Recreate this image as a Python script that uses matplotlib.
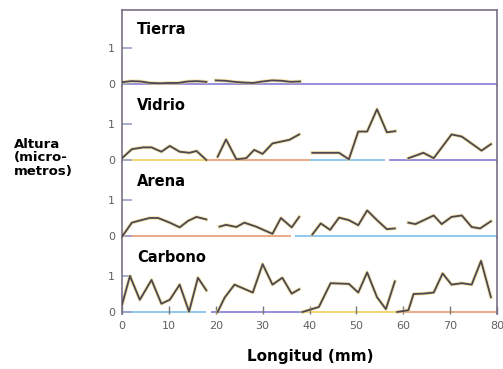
import numpy as np
import matplotlib
matplotlib.use("Agg")
import matplotlib.pyplot as plt

# Surface height profiles (micrometres) vs length (mm), four scans per material
PANELS = ["Tierra", "Vidrio", "Arena", "Carbono"]

tierra_x = [[0, 2, 4, 6, 8, 10, 12, 14, 16, 18],
            [20, 22, 24, 26, 28, 30, 32, 34, 36, 38]]
tierra_y = [[0.05, 0.08, 0.07, 0.03, 0.02, 0.03, 0.03, 0.07, 0.08, 0.06],
            [0.1, 0.09, 0.06, 0.04, 0.03, 0.07, 0.1, 0.09, 0.06, 0.07]]

vidrio_x = [[0, 2.1, 4.5, 6.3, 8.4, 10.2, 12.3, 14.4, 15.9, 18],
            [20.4, 22.2, 24.4, 26.5, 28.2, 30, 32.1, 33.9, 35.7, 37.8],
            [40.6, 46.3, 48.4, 50.4, 52.3, 54.4, 56.5, 58.3],
            [61.1, 64.3, 66.5, 70.3, 72.5, 76.7, 78.7]]
vidrio_y = [[0.05, 0.3, 0.35, 0.35, 0.23, 0.39, 0.23, 0.2, 0.25, 0.0],
            [0.09, 0.57, 0.02, 0.05, 0.28, 0.17, 0.46, 0.51, 0.56, 0.71],
            [0.2, 0.2, 0.02, 0.79, 0.79, 1.41, 0.77, 0.8],
            [0.05, 0.2, 0.05, 0.71, 0.65, 0.26, 0.44]]

arena_x = [[0.1, 2.1, 3.8, 5.9, 7.7, 10.2, 12.3, 14.1, 15.9, 18],
           [20.8, 22.2, 24.4, 26.1, 28.6, 32.1, 33.9, 36.2, 37.8],
           [40.6, 42.4, 44.4, 46.3, 48.4, 50.4, 52.3, 54.4, 56.5, 58.2],
           [61.1, 62.6, 66.5, 68.2, 70.3, 72.5, 74.6, 76.4, 78.7]]
arena_y = [[0.0, 0.37, 0.43, 0.5, 0.5, 0.37, 0.24, 0.42, 0.53, 0.46],
           [0.26, 0.31, 0.25, 0.37, 0.26, 0.06, 0.5, 0.24, 0.53],
           [0.04, 0.35, 0.17, 0.51, 0.44, 0.3, 0.71, 0.44, 0.19, 0.21],
           [0.37, 0.33, 0.57, 0.33, 0.53, 0.57, 0.25, 0.21, 0.41]]

carbono_x = [[0, 1.7, 3.8, 6.3, 8.4, 10.2, 12.3, 14.3, 16.2, 18],
             [20.4, 21.9, 24, 27.9, 30, 32.1, 34.2, 36.2, 37.8],
             [38.5, 42, 44.5, 48.4, 50.4, 52.3, 54.4, 56.3, 58.2],
             [58.7, 61.1, 62.2, 64.3, 66.5, 68.4, 70.3, 72.5, 74.6, 76.6, 78.7]]
carbono_y = [[0.2, 1.0, 0.34, 0.89, 0.23, 0.34, 0.76, 0.01, 0.95, 0.6],
             [0.0, 0.4, 0.76, 0.54, 1.33, 0.76, 0.95, 0.51, 0.63],
             [0.0, 0.14, 0.8, 0.78, 0.54, 1.1, 0.41, 0.08, 0.85],
             [0.0, 0.05, 0.5, 0.51, 0.54, 1.07, 0.76, 0.8, 0.76, 1.42, 0.41]]

SERIES_X = [tierra_x, vidrio_x, arena_x, carbono_x]
SERIES_Y = [tierra_y, vidrio_y, arena_y, carbono_y]

# baseline pieces (start, end) for each panel
BASELINES = [
    [(0, 80)],
    [(0, 18), (18, 40), (40, 56), (57, 80)],
    [(0, 36), (37, 80)],
    [(0, 18), (19, 38.5), (38.5, 58.5), (59, 80)],
]
base_colors = ['#8f86dc', '#f0d36a', '#e7a37a', '#86c4ee']

XTICKS = list(range(0, 81, 10))

W, H = 503, 369
fig = plt.figure(figsize=(W / 100, H / 100), dpi=100)

baselines_px = [84, 160, 236, 312]
left = 122 / W
width = 375 / W
ylo, yhi = -0.05, 2.06
ax_h = 76 / H

gray = '#606060'
axes = []
for i, name in enumerate(PANELS):
    b = 1 - (baselines_px[i] + 0.05 * 36) / H
    ax = fig.add_axes([left, b, width, ax_h])
    axes.append(ax)
    ax.set_xlim(0, 80)
    ax.set_ylim(ylo, yhi)

    ax.spines['bottom'].set_visible(False)
    if i > 0:
        ax.spines['top'].set_visible(False)
    for sp in ['left', 'right', 'top']:
        ax.spines[sp].set_color('#7a6f8a')
        ax.spines[sp].set_linewidth(1.2)

    for k, (x0, x1) in enumerate(BASELINES[i]):
        ax.plot([x0, x1], [0, 0], color=base_colors[(k + i) % 4], lw=1.3,
                solid_capstyle='butt', zorder=1)

    for xs, ys in zip(SERIES_X[i], SERIES_Y[i]):
        ax.plot(xs, ys, color='#e9d37a', lw=2.6, alpha=0.6, zorder=2)
        ax.plot(xs, ys, color='#4e4650', lw=1.3, zorder=3)

    ax.text(3.2, 1.5, name, fontsize=10.5, fontweight='bold', color='black',
            va='center', ha='left')

    ax.set_yticks([0, 1])
    ax.set_yticklabels(['0', '1'])
    ax.tick_params(axis='y', direction='in', length=7, width=1.2,
                   colors='#9aa0c8', labelcolor=gray, labelsize=8, pad=5)
    if i < 3:
        ax.set_xticks([])
    else:
        ax.set_xticks(XTICKS)
        ax.tick_params(axis='x', direction='in', length=6, width=1.0,
                       colors='#777777', labelcolor=gray, labelsize=8, pad=5)

fig.text(14 / W, 1 - 158 / H, "Altura\n(micro-\nmetros)", fontsize=9.5,
         fontweight='bold', ha='left', va='center', linespacing=1.05)
fig.text(310 / W, 1 - 356 / H, "Longitud (mm)", fontsize=11,
         fontweight='bold', ha='center', va='center')

fig.savefig("out.png", dpi=100)
plt.close(fig)
